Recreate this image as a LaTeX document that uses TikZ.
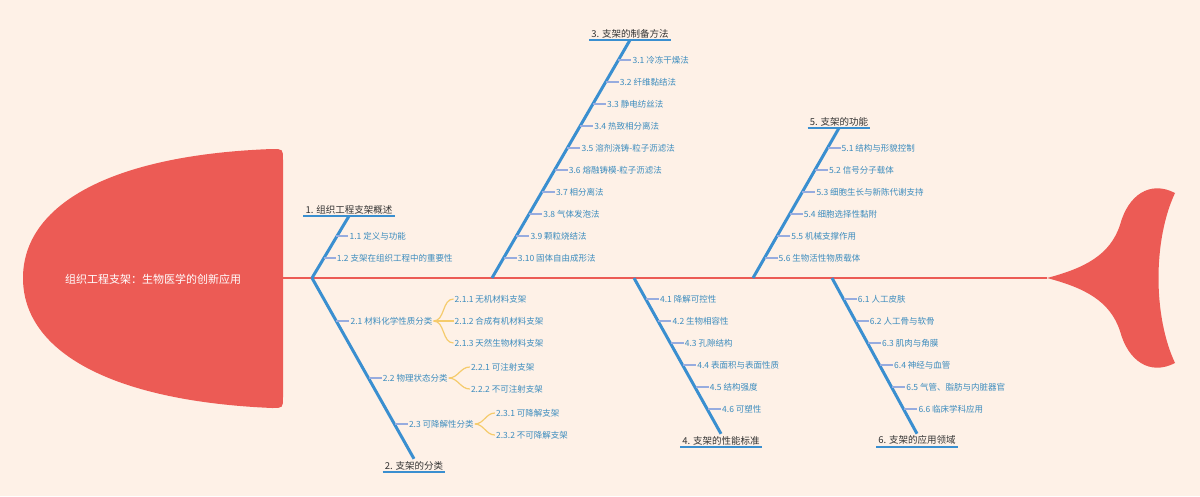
\documentclass[tikz,border=0pt]{standalone}
\usepackage{fontspec}
\setmainfont{Noto Sans CJK SC}
\usepackage{tikz}
\usetikzlibrary{positioning}
\definecolor{bgpeach}{HTML}{FEF1E7}
\definecolor{fishred}{HTML}{EC5B55}
\definecolor{boneblue}{HTML}{3A8FD0}
\definecolor{tickblue}{HTML}{97ACDF}
\definecolor{itemblue}{HTML}{3C8CBE}
\definecolor{leafyellow}{HTML}{F5CB6C}
\definecolor{catgray}{HTML}{333333}
\tikzstyle{cat} = [text=catgray, font=\fontsize{9.5}{11}\selectfont, inner sep=2pt, anchor=south]
\tikzstyle{item} = [text=itemblue, font=\fontsize{8.5}{10}\selectfont, inner sep=1pt, anchor=west]
\tikzstyle{bone} = [draw=boneblue, line width=3pt]
\tikzstyle{uline} = [draw=boneblue, line width=2pt]
\tikzstyle{tick} = [draw=tickblue, line width=1.2pt]
\tikzstyle{brace} = [draw=leafyellow, line width=1.2pt]
\tikzstyle{spine} = [draw=fishred, line width=1.5pt]

\begin{document}
\begin{tikzpicture}[x=1pt,y=-1pt]
  \fill[bgpeach] (0,0) rectangle (1200,496);
  \useasboundingbox (0,0) rectangle (1200,496);
  % head and tail
  \fill[fishred] (272,149) .. controls (110,155) and (23,205) .. (23,278)
    .. controls (23,351) and (110,401) .. (272,408)
    .. controls (283,408) and (283,408) .. (283,397) -- (283,160)
    .. controls (283,149) and (283,149) .. (272,149) -- cycle;
  \fill[fishred] (1047,278) .. controls (1085,268) and (1110,255) .. (1120,225)
    .. controls (1128,195) and (1150,180) .. (1175,193)
    .. controls (1153,240) and (1153,316) .. (1175,363)
    .. controls (1150,376) and (1128,361) .. (1120,331)
    .. controls (1110,301) and (1085,288) .. (1047,278) -- cycle;
  \node[text=white, font=\fontsize{11}{13}\selectfont] (title) at (153,279) {组织工程支架：生物医学的创新应用};
  \coordinate (headR) at (283,278);
  \coordinate (tailtip) at (1047,278);
  \draw[spine] (headR) -- (tailtip);
  \coordinate (j12) at (312,278);
  \coordinate (j3) at (492,278);
  \coordinate (j4) at (634,278);
  \coordinate (j5) at (753,278);
  \coordinate (j6) at (832,278);

  % categories
  \node[cat] (c1) at (349,216) {1. 组织工程支架概述};
  \node[cat] (c2) at (414,472) {2. 支架的分类};
  \node[cat] (c3) at (630,40) {3. 支架的制备方法};
  \node[cat] (c4) at (721,447) {4. 支架的性能标准};
  \node[cat] (c5) at (839,128) {5. 支架的功能};
  \node[cat] (c6) at (917,447) {6. 支架的应用领域};
  \foreach \c in {c1,c2,c3,c4,c5,c6}
    \draw[uline] (\c.south west) -- (\c.south east);
  \draw[bone] (c1.south) -- (j12);
  \draw[bone] (j12) -- (c2.north);
  \draw[bone] (c3.south) -- (j3);
  \draw[bone] (j4) -- (c4.north);
  \draw[bone] (c5.south) -- (j5);
  \draw[bone] (j6) -- (c6.north);

  % 1
  \coordinate (b11) at (336.4,236); \node[item] (s11) at (348.4,236) {1.1 定义与功能}; \draw[tick] (b11) -- (s11);
  \coordinate (b12) at (323.6,258); \node[item] (s12) at (335.6,258) {1.2 支架在组织工程中的重要性}; \draw[tick] (b12) -- (s12);

  % 2
  \coordinate (b21) at (336.4,321); \node[item] (m21) at (349.4,321) {2.1 材料化学性质分类}; \draw[tick] (b21) -- (m21);
  \coordinate (b22) at (368.7,378); \node[item] (m22) at (381.7,378) {2.2 物理状态分类}; \draw[tick] (b22) -- (m22);
  \coordinate (b23) at (394.8,424); \node[item] (m23) at (407.8,424) {2.3 可降解性分类}; \draw[tick] (b23) -- (m23);
  \node[item] (l211) at ([xshift=20pt,yshift=22pt]m21.east) {2.1.1 无机材料支架};
  \node[item, right=20pt of m21] (l212) {2.1.2 合成有机材料支架};
  \node[item] (l213) at ([xshift=20pt,yshift=-22pt]m21.east) {2.1.3 天然生物材料支架};
  \node[item] (l221) at ([xshift=21pt,yshift=11pt]m22.east) {2.2.1 可注射支架};
  \node[item] (l222) at ([xshift=21pt,yshift=-11pt]m22.east) {2.2.2 不可注射支架};
  \node[item] (l231) at ([xshift=20pt,yshift=11pt]m23.east) {2.3.1 可降解支架};
  \node[item] (l232) at ([xshift=20pt,yshift=-11pt]m23.east) {2.3.2 不可降解支架};
  \draw[brace] (m21.east) to[out=0,in=180] (l211.west);
  \draw[brace] (m21.east) -- (l212.west);
  \draw[brace] (m21.east) to[out=0,in=180] (l213.west);
  \draw[brace] (m22.east) to[out=0,in=180] (l221.west);
  \draw[brace] (m22.east) to[out=0,in=180] (l222.west);
  \draw[brace] (m23.east) to[out=0,in=180] (l231.west);
  \draw[brace] (m23.east) to[out=0,in=180] (l232.west);

  % 3
  \coordinate (b31) at (618.4,60); \node[item] (s31) at (631.4,60) {3.1 冷冻干燥法}; \draw[tick] (b31) -- (s31);
  \coordinate (b32) at (605.6,82); \node[item] (s32) at (618.6,82) {3.2 纤维黏结法}; \draw[tick] (b32) -- (s32);
  \coordinate (b33) at (592.9,104); \node[item] (s33) at (605.9,104) {3.3 静电纺丝法}; \draw[tick] (b33) -- (s33);
  \coordinate (b34) at (580.1,126); \node[item] (s34) at (593.1,126) {3.4 热致相分离法}; \draw[tick] (b34) -- (s34);
  \coordinate (b35) at (567.4,148); \node[item] (s35) at (580.4,148) {3.5 溶剂浇铸-粒子沥滤法}; \draw[tick] (b35) -- (s35);
  \coordinate (b36) at (554.6,170); \node[item] (s36) at (567.6,170) {3.6 熔融铸模-粒子沥滤法}; \draw[tick] (b36) -- (s36);
  \coordinate (b37) at (541.8,192); \node[item] (s37) at (554.8,192) {3.7 相分离法}; \draw[tick] (b37) -- (s37);
  \coordinate (b38) at (529.1,214); \node[item] (s38) at (542.1,214) {3.8 气体发泡法}; \draw[tick] (b38) -- (s38);
  \coordinate (b39) at (516.3,236); \node[item] (s39) at (529.3,236) {3.9 颗粒烧结法}; \draw[tick] (b39) -- (s39);
  \coordinate (b310) at (503.6,258); \node[item] (s310) at (516.6,258) {3.10 固体自由成形法}; \draw[tick] (b310) -- (s310);

  % 4
  \coordinate (b41) at (645.9,299); \node[item] (s41) at (658.9,299) {4.1 降解可控性}; \draw[tick] (b41) -- (s41);
  \coordinate (b42) at (658.3,321); \node[item] (s42) at (671.3,321) {4.2 生物相容性}; \draw[tick] (b42) -- (s42);
  \coordinate (b43) at (670.7,343); \node[item] (s43) at (683.7,343) {4.3 孔隙结构}; \draw[tick] (b43) -- (s43);
  \coordinate (b44) at (683.2,365); \node[item] (s44) at (696.2,365) {4.4 表面积与表面性质}; \draw[tick] (b44) -- (s44);
  \coordinate (b45) at (695.6,387); \node[item] (s45) at (708.6,387) {4.5 结构强度}; \draw[tick] (b45) -- (s45);
  \coordinate (b46) at (708.0,409); \node[item] (s46) at (721.0,409) {4.6 可塑性}; \draw[tick] (b46) -- (s46);

  % 5
  \coordinate (b51) at (827.5,148); \node[item] (s51) at (840.5,148) {5.1 结构与形貌控制}; \draw[tick] (b51) -- (s51);
  \coordinate (b52) at (814.9,170); \node[item] (s52) at (827.9,170) {5.2 信号分子载体}; \draw[tick] (b52) -- (s52);
  \coordinate (b53) at (802.3,192); \node[item] (s53) at (815.3,192) {5.3 细胞生长与新陈代谢支持}; \draw[tick] (b53) -- (s53);
  \coordinate (b54) at (789.7,214); \node[item] (s54) at (802.7,214) {5.4 细胞选择性黏附}; \draw[tick] (b54) -- (s54);
  \coordinate (b55) at (777.1,236); \node[item] (s55) at (790.1,236) {5.5 机械支撑作用}; \draw[tick] (b55) -- (s55);
  \coordinate (b56) at (764.5,258); \node[item] (s56) at (777.5,258) {5.6 生物活性物质载体}; \draw[tick] (b56) -- (s56);

  % 6
  \coordinate (b61) at (843.6,299); \node[item] (s61) at (856.6,299) {6.1 人工皮肤}; \draw[tick] (b61) -- (s61);
  \coordinate (b62) at (855.7,321); \node[item] (s62) at (868.7,321) {6.2 人工骨与软骨}; \draw[tick] (b62) -- (s62);
  \coordinate (b63) at (867.9,343); \node[item] (s63) at (880.9,343) {6.3 肌肉与角膜}; \draw[tick] (b63) -- (s63);
  \coordinate (b64) at (880.0,365); \node[item] (s64) at (893.0,365) {6.4 神经与血管}; \draw[tick] (b64) -- (s64);
  \coordinate (b65) at (892.2,387); \node[item] (s65) at (905.2,387) {6.5 气管、脂肪与内脏器官}; \draw[tick] (b65) -- (s65);
  \coordinate (b66) at (904.3,409); \node[item] (s66) at (917.3,409) {6.6 临床学科应用}; \draw[tick] (b66) -- (s66);
\end{tikzpicture}
\end{document}
